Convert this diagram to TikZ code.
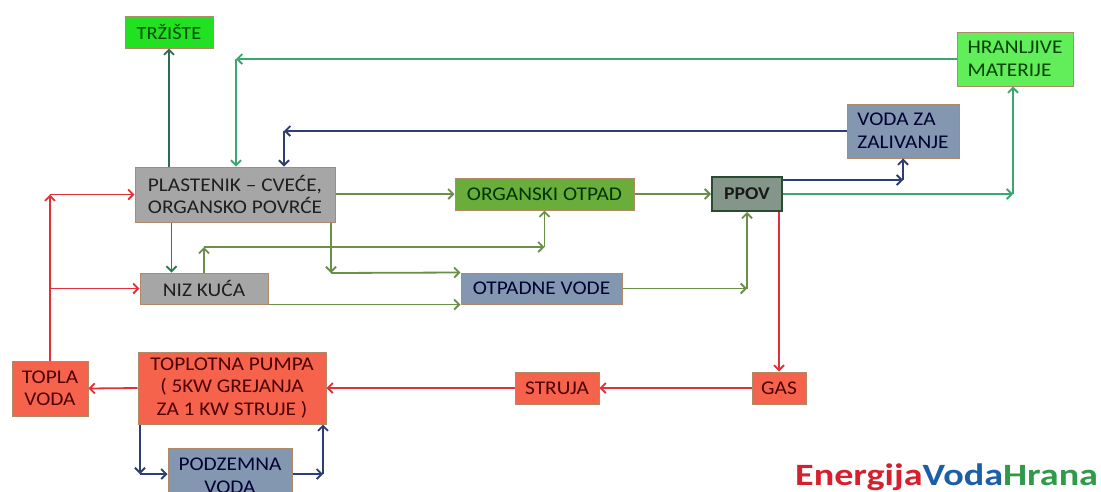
\documentclass[tikz,border=0pt]{standalone}
\usepackage{fontspec}
\setmainfont{Carlito}[FakeStretch=1.1]
\newfontfamily\logofont{Carlito}[FakeStretch=1.23]
\usetikzlibrary{arrows.meta}
\definecolor{trzfill}{HTML}{22E022}
\definecolor{hranfill}{HTML}{62EE5A}
\definecolor{bgfill}{HTML}{8497B0}
\definecolor{grfill}{HTML}{A6A6A6}
\definecolor{orgfill}{HTML}{6AAD3A}
\definecolor{ppovfill}{HTML}{84968A}
\definecolor{redfill}{HTML}{F5634D}
\definecolor{bord}{HTML}{B08A66}
\definecolor{ppovbord}{HTML}{2A4A32}
\definecolor{cdk}{HTML}{2F6B52}
\definecolor{cteal}{HTML}{3AA870}
\definecolor{cnavy}{HTML}{2C3E72}
\definecolor{colive}{HTML}{6B8E4A}
\definecolor{cgreen}{HTML}{2A7F55}
\definecolor{cred}{HTML}{E0303A}
\definecolor{lred}{HTML}{D7202E}
\definecolor{lblue}{HTML}{1C5EA8}
\definecolor{lgreen}{HTML}{2E9A4A}
\tikzset{
  box/.style={draw=bord, line width=1pt, inner sep=0pt, text=black!88,
    font=\fontsize{19.4}{22.5}\selectfont, align=center},
  con/.style={line width=1.8pt, -{Straight Barb[length=5pt,width=10pt]}},
}
\begin{document}
\begin{tikzpicture}[x=1pt,y=-1pt]
\fill[white] (0,0) rectangle (1101,491);
\useasboundingbox (0,0) rectangle (1101,491);
\clip (0,0) rectangle (1101,491);
% nodes
\node[box, fill=trzfill, minimum width=88pt, minimum height=32pt, text=green!30!black, font=\fontsize{18.5}{22}\selectfont] (trz) at (169,32) {TRŽIŠTE};
\node[box, fill=hranfill, minimum width=116pt, minimum height=54pt, align=left, text=green!25!black] (hran) at (1015,59) {HRANLJIVE\\MATERIJE};
\node[box, fill=bgfill, minimum width=112pt, minimum height=54pt, align=left, text=black!80!blue] (voda) at (903,131) {VODA ZA\\ZALIVANJE};
\node[box, fill=grfill, minimum width=200pt, minimum height=55pt, align=left] (plast) at (235,194.5) {PLASTENIK – CVEĆE,\\ORGANSKO POVRĆE};
\node[box, fill=grfill, minimum width=128pt, minimum height=31pt] (niz) at (204,288.5) {NIZ KUĆA};
\node[box, fill=orgfill, minimum width=179pt, minimum height=32pt, text=green!20!black] (org) at (544.5,194) {ORGANSKI OTPAD};
\node[box, fill=ppovfill, draw=ppovbord, line width=2pt, minimum width=70pt, minimum height=34pt, font=\bfseries\fontsize{18}{22}\selectfont, text=black!90] (ppov) at (747,194) {PPOV};
\node[box, fill=bgfill, minimum width=161pt, minimum height=31pt, text=black!80!blue] (otp) at (541.5,288.5) {OTPADNE VODE};
\node[box, fill=redfill, minimum width=76pt, minimum height=55pt, text=red!30!black] (topla) at (50,388.5) {TOPLA\\VODA};
\node[box, fill=redfill, minimum width=188pt, minimum height=72pt, text=red!30!black] (pumpa) at (232,388) {TOPLOTNA PUMPA\\( 5KW GREJANJA\\ZA 1 KW STRUJE )};
\node[box, fill=bgfill, minimum width=124pt, minimum height=56pt, text=black!80!blue] (podz) at (230,476) {PODZEMNA\\VODA};
\node[box, fill=redfill, minimum width=84pt, minimum height=32pt, text=red!30!black] (struja) at (557,388) {STRUJA};
\node[box, fill=redfill, minimum width=54pt, minimum height=32pt, text=red!30!black] (gas) at (779,388) {GAS};
\node[anchor=base west, inner sep=0pt, font=\logofont\bfseries\fontsize{31}{36}\selectfont] (logo) at (795,485) {\textcolor{lred}{Energija}\textcolor{lblue}{Voda}\textcolor{lgreen}{Hrana}};
% corner coordinates
\coordinate (c1) at (236,59);
\coordinate (c2) at (284,131);
\coordinate (c3) at (903,180);
\coordinate (c4) at (1013,194);
\coordinate (c5) at (204,247);
\coordinate (c6) at (544.5,247);
\coordinate (c7) at (331,273);
\coordinate (c8) at (747,288.5);
\coordinate (c9) at (50,194.5);
\coordinate (c10) at (140,474);
\coordinate (c11) at (323,474);
% connectors
\draw[con, cdk] (trz.south |- plast.north) -- (trz.south);
\draw[con, cteal] (hran.west) -- (c1);
\draw[con, cteal] (c1) -- (c1 |- plast.north);
\draw[con, cnavy] (voda.west) -- (c2);
\draw[con, cnavy] (c2) -- (c2 |- plast.north);
\draw[con, cnavy] (ppov.east |- c3) -- (c3);
\draw[con, cnavy] (c3) -- (voda.south);
\draw[con, cteal] (ppov.east) -- (c4);
\draw[con, cteal] (c4) -- (c4 |- hran.south);
\draw[con, colive] (org.west -| plast.east) -- (org.west);
\draw[con, colive] (org.east) -- (ppov.west);
\draw[con, cgreen] ([xshift=37pt]plast.south west) -- ([xshift=37pt]plast.south west |- niz.north);
\draw[con, colive] (niz.north) -- (c5);
\draw[con, colive] (c5) -- (c6);
\draw[con, colive] (c6) -- (org.south);
\draw[con, colive] (c7 |- plast.south) -- (c7);
\draw[con, colive] (c7) -- (otp.north west);
\draw[con, colive] (niz.south east) -- (otp.south west);
\draw[con, colive] (otp.east) -- (c8);
\draw[con, colive] (c8) -- (ppov.south);
\draw[con, cred] (gas.north |- ppov.south) -- (gas.north);
\draw[con, cred] (gas.west) -- (struja.east);
\draw[con, cred] (struja.west) -- (pumpa.east);
\draw[con, cred] (pumpa.west) -- (topla.east);
\draw[con, cred] (topla.north) -- (c9);
\draw[con, cred] (c9) -- (plast.west);
\draw[con, cred] (topla.north |- niz.west) -- (niz.west);
\draw[con, cnavy] (c10 |- pumpa.south) -- (c10);
\draw[con, cnavy] (c10) -- (c10 -| podz.west);
\draw[con, cnavy] (c11 -| podz.east) -- (c11);
\draw[con, cnavy] (c11) -- (c11 |- pumpa.south);
\end{tikzpicture}
\end{document}
